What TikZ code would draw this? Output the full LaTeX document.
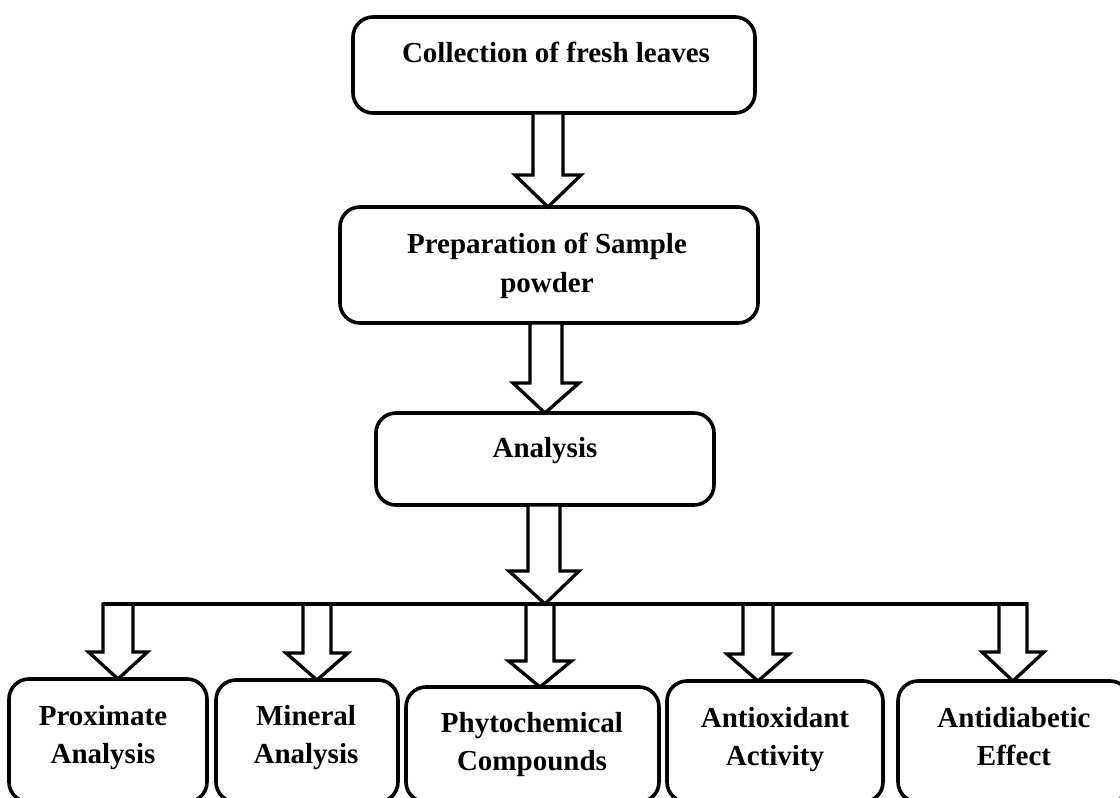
\documentclass[tikz,border=0pt]{standalone}
\usepackage{fontspec}
\setmainfont{Liberation Serif}
\usetikzlibrary{calc}
\tikzset{
  box/.style={draw, line width=3.6pt, rounded corners=20pt, fill=white, inner sep=0pt, outer sep=0pt},
  lbl/.style={font=\bfseries\fontsize{29pt}{38.5pt}\selectfont, align=center, inner sep=0pt},
  barrow/.style={draw, line width=3.3pt, fill=white, line join=miter},
  bus/.style={line width=3.3pt}
}
% #1 start (top of shaft), #2 tip, #3 half shaft width, #4 half head width, #5 head length
\newcommand\blockarrow[5]{%
  \draw[barrow] let \p1=#1, \p2=#2 in
    (\x1-#3,\y1) -- (\x1-#3,\y2+#5) -- (\x1-#4,\y2+#5) -- (\x2,\y2)
    -- (\x1+#4,\y2+#5) -- (\x1+#3,\y2+#5) -- (\x1+#3,\y1) -- cycle;}
\begin{document}
\begin{tikzpicture}[x=1pt,y=-1pt]
\useasboundingbox (0,0) rectangle (1120,798);
\clip (0,0) rectangle (1120,798);
\fill[white] (0,0) rectangle (1120,798);

% main boxes
\node[box, minimum width=402pt, minimum height=96pt]  (c1) at (554,65)  {};
\node[box, minimum width=418pt, minimum height=116pt] (c2) at (549,265) {};
\node[box, minimum width=338pt, minimum height=92pt]  (c3) at (545,459) {};

% bottom boxes
\node[box, minimum width=198pt, minimum height=123pt] (d1) at (108,740.5)  {};
\node[box, minimum width=182pt, minimum height=122pt] (d2) at (307,741)    {};
\node[box, minimum width=253pt, minimum height=115pt] (d3) at (532.5,744.5) {};
\node[box, minimum width=216pt, minimum height=121pt] (d4) at (775,741.5)  {};
\node[box, minimum width=232pt, minimum height=121pt] (d5) at (1014,741.5) {};

% labels
\node[lbl, anchor=base]  (t1) at (556,62)  {Collection of fresh leaves};
\node[lbl, anchor=north] (t2) at (547,233) {Preparation of Sample\\powder};
\node[lbl, anchor=base]  (t3) at (545,457) {Analysis};
\node[lbl, anchor=north] (e1) at (103,705) {Proximate\\Analysis};
\node[lbl, anchor=north] (e2) at (306,705) {Mineral\\Analysis};
\node[lbl, anchor=north] (e3) at (532,712) {Phytochemical\\Compounds};
\node[lbl, anchor=north] (e4) at (775,707) {Antioxidant\\Activity};
\node[lbl, anchor=north] (e5) at (1014,707) {Antidiabetic\\Effect};

% bus coordinates
\coordinate (busL) at (103,604);
\coordinate (busR) at (1028,604);
\coordinate (busM) at (545,604);
\coordinate (p1) at (118,604);
\coordinate (p2) at (317,604);
\coordinate (p3) at (540,604);
\coordinate (p4) at (758,604);
\coordinate (p5) at (1013,604);

% vertical block arrows
\blockarrow{([xshift=-6pt]c1.south)}{([xshift=-1pt]c2.north)}{15pt}{33pt}{32pt}
\blockarrow{([xshift=-3pt]c2.south)}{(c3.north)}{16pt}{33pt}{30pt}

% branch arrows
\blockarrow{(p1)}{([xshift=10pt]d1.north)}{15pt}{29.5pt}{27pt}
\blockarrow{(p2)}{([xshift=10pt]d2.north)}{14pt}{31pt}{27pt}
\blockarrow{(p3)}{([xshift=7.5pt]d3.north)}{14pt}{31.5pt}{26pt}
\blockarrow{(p4)}{([xshift=-17pt]d4.north)}{15pt}{31pt}{27pt}
\blockarrow{(p5)}{([xshift=-1pt]d5.north)}{14pt}{31pt}{29pt}

\draw[bus] (busL) -- (busR);

\blockarrow{([xshift=-1pt]c3.south)}{(busM)}{16pt}{35pt}{33pt}
\end{tikzpicture}
\end{document}
